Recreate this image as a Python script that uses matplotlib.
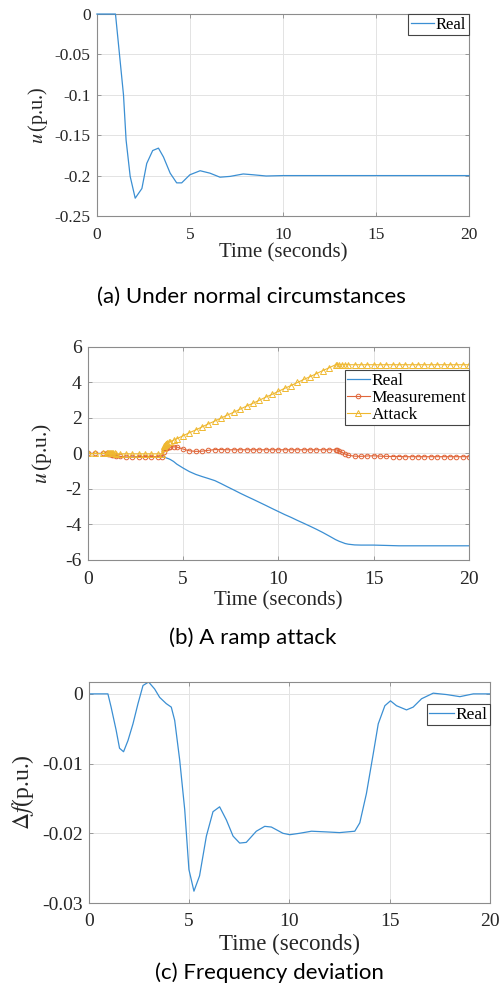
import matplotlib
matplotlib.use('Agg')
from matplotlib import pyplot as plt

plt.rcParams['mathtext.fontset'] = 'stix'
plt.rcParams['axes.unicode_minus'] = False

# (a) normal circumstances
t1 = [0, 1.0, 1.43, 1.57, 1.79, 2.06, 2.42, 2.68, 3.0, 3.31, 3.58, 3.94, 4.29, 4.56,
      5.0, 5.55, 6.08, 6.62, 7.16, 7.87, 8.4, 9.1, 10.0, 12.0, 15.0, 20.0]
u1 = [0, 0, -0.1, -0.156, -0.201, -0.228, -0.216, -0.185, -0.169, -0.166, -0.177, -0.197,
      -0.209, -0.209, -0.199, -0.194, -0.197, -0.202, -0.201, -0.198, -0.199, -0.2005,
      -0.2, -0.2, -0.2, -0.2]

# (b) ramp attack
t2 = [0, 0.4, 0.8, 1.0, 1.05, 1.1, 1.15, 1.2, 1.25, 1.3, 1.4, 1.5, 1.7, 2.0, 2.33, 2.67,
      3.0, 3.33, 3.67, 3.9, 4.0, 4.02, 4.05, 4.08, 4.12, 4.17, 4.25, 4.33, 4.5, 4.67,
      5.0, 5.33, 5.67, 6.0, 6.33, 6.67, 7.0, 7.33, 7.67, 8.0, 8.33, 8.67, 9.0, 9.33, 9.67,
      10.0, 10.33, 10.67, 11.0, 11.33, 11.67, 12.0, 12.33, 12.67, 13.0, 13.1, 13.2, 13.33,
      13.5, 13.67, 14.0, 14.33, 14.67, 15.0, 15.33, 15.67, 16.0, 16.33, 16.67, 17.0, 17.33,
      17.67, 18.0, 18.33, 18.67, 19.0, 19.33, 19.67, 20.0]
real2 = [0, 0, 0, 0, -0.01, -0.03, -0.05, -0.07, -0.09, -0.1, -0.13, -0.15, -0.19, -0.22,
         -0.21, -0.18, -0.17, -0.17, -0.19, -0.2, -0.2, -0.21, -0.22, -0.23, -0.25, -0.27,
         -0.3, -0.34, -0.45, -0.6, -0.82, -1.02, -1.18, -1.3, -1.41, -1.53, -1.7, -1.88,
         -2.06, -2.24, -2.41, -2.58, -2.75, -2.92, -3.1, -3.27, -3.44, -3.6, -3.77, -3.93,
         -4.1, -4.27, -4.45, -4.65, -4.85, -4.9, -4.95, -5.0, -5.07, -5.11, -5.15, -5.16,
         -5.16, -5.16, -5.17, -5.18, -5.19, -5.2, -5.2, -5.2, -5.2, -5.2, -5.2, -5.2, -5.2,
         -5.2, -5.2, -5.2, -5.2]
meas2 = [0, 0, 0, 0, -0.01, -0.02, -0.03, -0.05, -0.06, -0.08, -0.1, -0.12, -0.16, -0.2,
         -0.2, -0.18, -0.17, -0.17, -0.18, -0.19, 0.1, 0.25, 0.3, 0.3, 0.32, 0.33, 0.34,
         0.35, 0.38, 0.36, 0.25, 0.15, 0.12, 0.13, 0.18, 0.22, 0.22, 0.21, 0.21, 0.21, 0.21,
         0.21, 0.21, 0.21, 0.21, 0.21, 0.21, 0.21, 0.21, 0.21, 0.21, 0.21, 0.21, 0.21, 0.21,
         0.2, 0.15, 0.07, -0.03, -0.1, -0.15, -0.16, -0.14, -0.13, -0.15, -0.16, -0.17,
         -0.17, -0.18, -0.18, -0.18, -0.18, -0.18, -0.18, -0.18, -0.18, -0.18, -0.18, -0.18]
attack2 = [0, 0, 0, 0, 0, 0, 0, 0, 0, 0, 0, -0.02, -0.02, -0.02, -0.02, -0.02, -0.02,
           -0.02, -0.02, -0.02, 0.3, 0.45, 0.5, 0.52, 0.55, 0.58, 0.62, 0.67, 0.75, 0.83,
           1.0, 1.17, 1.33, 1.5, 1.67, 1.83, 2.0, 2.17, 2.33, 2.5, 2.67, 2.83, 3.0, 3.17,
           3.33, 3.5, 3.67, 3.83, 4.0, 4.17, 4.33, 4.5, 4.67, 4.83, 5.0, 5.0, 5.0, 5.0, 5.0,
           5.0, 5.0, 5.0, 5.0, 5.0, 5.0, 5.0, 5.0, 5.0, 5.0, 5.0, 5.0, 5.0, 5.0, 5.0, 5.0,
           5.0, 5.0, 5.0, 5.0]

# (c) frequency deviation
t3 = [0, 0.95, 1.11, 1.36, 1.53, 1.73, 1.95, 2.2, 2.45, 2.7, 2.98, 3.28, 3.53, 3.86, 4.11,
      4.28, 4.53, 4.78, 4.99, 5.24, 5.52, 5.86, 6.19, 6.52, 6.86, 7.19, 7.52, 7.85, 8.35,
      8.77, 9.1, 9.68, 10.02, 10.5, 11.1, 11.85, 12.5, 13.26, 13.51, 13.84, 14.18, 14.43,
      14.76, 15.04, 15.34, 15.84, 16.17, 16.59, 17.17, 17.84, 18.5, 19.17, 20.0]
df3 = [0, 0, -0.0019, -0.0052, -0.0078, -0.0083, -0.0067, -0.0043, -0.0014, 0.0012,
       0.0017, 0.0007, -0.0005, -0.0014, -0.0019, -0.0038, -0.0095, -0.0166, -0.0252,
       -0.0283, -0.0261, -0.0204, -0.0169, -0.0162, -0.0181, -0.0204, -0.0214, -0.0213,
       -0.0197, -0.019, -0.0191, -0.02, -0.0202, -0.02, -0.0197, -0.0198, -0.0199, -0.0197,
       -0.0185, -0.0143, -0.0086, -0.0043, -0.0017, -0.001, -0.0017, -0.0023, -0.0019,
       -0.0007, 0.0001, -0.0001, -0.0004, 0.0, 0.0]

blue = '#3b8fd3'
orange = '#e0663a'
yellow = '#efb830'
serif = ['Liberation Serif', 'DejaVu Serif']
txt = '#262626'


def style_axes(ax, tick_size):
    ax.set_xlim(0, 20)
    ax.set_xticks([0, 5, 10, 15, 20])
    ax.grid(True, color='#e3e3e3', linewidth=0.7)
    ax.set_axisbelow(True)
    for s in ax.spines.values():
        s.set_color('#8c8c8c')
        s.set_linewidth(0.8)
    ax.tick_params(direction='in', length=3, width=0.6, color='#8c8c8c',
                   top=True, right=True, labelsize=tick_size, labelcolor=txt)
    ax.tick_params(axis='x', pad=8)
    ax.tick_params(axis='y', pad=4.5)
    for lbl in ax.get_xticklabels() + ax.get_yticklabels():
        lbl.set_family(serif)


def legend(ax, size, hlen, **kw):
    leg = ax.legend(prop={'family': serif, 'size': size}, fancybox=False,
                    framealpha=1, borderpad=0.15, handlelength=hlen, handletextpad=0.1,
                    labelspacing=0.05, borderaxespad=0, **kw)
    leg.get_frame().set_edgecolor('#444444')
    leg.get_frame().set_linewidth(0.8)
    return leg


fig = plt.figure(figsize=(5.02, 9.88), dpi=100)

# panel (a)
ax1 = fig.add_axes([0.193, 0.7814, 0.741, 0.2044])
ax1.plot(t1, u1, color=blue, linewidth=0.9, label='Real', zorder=3, clip_on=False)
ax1.set_ylim(-0.25, 0)
ax1.set_yticks([-0.25, -0.2, -0.15, -0.1, -0.05, 0])
ax1.set_yticklabels(['-0.25', '-0.2', '-0.15', '-0.1', '-0.05', '0'])
style_axes(ax1, 12.5)
ax1.set_xlabel('Time (seconds)', family=serif, fontsize=15, color=txt, labelpad=0)
ax1.set_ylabel(r'$u\,$(p.u.)', family=serif, fontsize=14.5, color=txt, labelpad=3)
legend(ax1, 12, 1.4, loc='upper right')
fig.text(0.5, 1 - 297 / 988, '(a) Under normal circumstances', family='Lato',
         fontsize=16, ha='center', va='center', color='black')

# panel (b)
ax2 = fig.add_axes([0.175, 0.4332, 0.759, 0.2156])
ax2.plot(t2, real2, color=blue, linewidth=0.9, label='Real')
ax2.plot(t2, meas2, color=orange, linewidth=0.8, marker='o', markersize=3.3,
         markerfacecolor='none', markeredgewidth=0.7, label='Measurement')
ax2.plot(t2, attack2, color=yellow, linewidth=0.8, marker='^', markersize=3.8,
         markerfacecolor='none', markeredgewidth=0.7, label='Attack')
ax2.set_ylim(-6, 6)
ax2.set_yticks([-6, -4, -2, 0, 2, 4, 6])
style_axes(ax2, 14)
ax2.set_xlabel('Time (seconds)', family=serif, fontsize=15, color=txt, labelpad=2)
ax2.set_ylabel(r'$u\,$(p.u.)', family=serif, fontsize=15.5, color=txt, labelpad=8)
legend(ax2, 12.5, 1.3, loc='upper right', bbox_to_anchor=(1.0, 0.892))
fig.text(0.503, 1 - 638 / 988, '(b) A ramp attack', family='Lato',
         fontsize=16, ha='center', va='center', color='black')

# panel (c)
ax3 = fig.add_axes([0.177, 0.0860, 0.799, 0.2237])
ax3.plot(t3, df3, color=blue, linewidth=0.9, label='Real')
ax3.set_ylim(-0.03, 0.0017)
ax3.set_yticks([-0.03, -0.02, -0.01, 0])
ax3.set_yticklabels(['-0.03', '-0.02', '-0.01', '0'])
style_axes(ax3, 14)
ax3.tick_params(axis='x', pad=7)
ax3.set_xlabel('Time (seconds)', family=serif, fontsize=16.5, color=txt, labelpad=3)
ax3.set_ylabel(r'$\Delta f$(p.u.)', family=serif, fontsize=17, color=txt, labelpad=4)
legend(ax3, 12.5, 1.4, loc='upper right', bbox_to_anchor=(1.0, 0.90))
fig.text(0.536, 1 - 973 / 988, '(c) Frequency deviation', family='Lato',
         fontsize=16, ha='center', va='center', color='black')

fig.savefig('out.png', dpi=100)
